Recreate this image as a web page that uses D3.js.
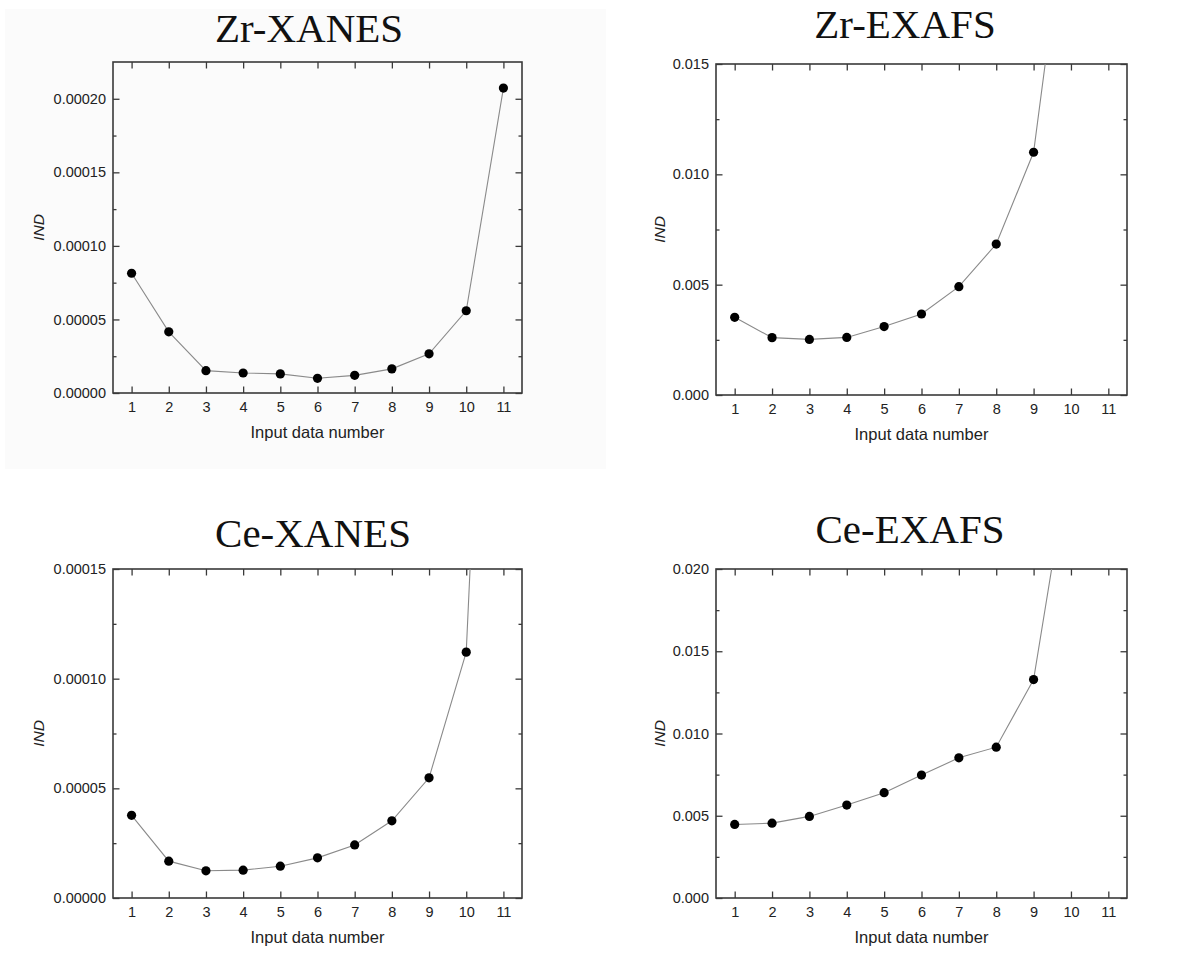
<!DOCTYPE html>
<html>
<head>
<meta charset="utf-8">
<script src="https://cdn.jsdelivr.net/npm/d3@7"></script>
<style>
  html, body { margin: 0; padding: 0; background: #ffffff; }
  svg { display: block; }
</style>
</head>
<body>
<svg id="chart" width="1200" height="967"></svg>
<script>
// ---------- data ----------
const inputNumbers = [1, 2, 3, 4, 5, 6, 7, 8, 9, 10, 11];
const xTickValues = [1, 2, 3, 4, 5, 6, 7, 8, 9, 10, 11];

const panelTitles = ["Zr-XANES", "Zr-EXAFS", "Ce-XANES", "Ce-EXAFS"];

const zrXanesIND = [8.14e-5, 4.16e-5, 1.52e-5, 1.36e-5, 1.30e-5, 1.00e-5, 1.20e-5, 1.64e-5, 2.66e-5, 5.59e-5, 2.073e-4];
const zrExafsIND = [0.00352, 0.00260, 0.00252, 0.00261, 0.00310, 0.00367, 0.00491, 0.00684, 0.01100, 0.0239];
const ceXanesIND = [3.77e-5, 1.68e-5, 1.24e-5, 1.27e-5, 1.45e-5, 1.83e-5, 2.42e-5, 3.52e-5, 5.48e-5, 1.121e-4, 4.8e-4];
const ceExafsIND = [0.00447, 0.00455, 0.00496, 0.00565, 0.00640, 0.00747, 0.00852, 0.00917, 0.01328, 0.0272];

const zrXanesYTicks = [0, 0.00005, 0.00010, 0.00015, 0.00020];
const zrXanesYMinor = [0.000025, 0.000075, 0.000125, 0.000175];
const zrExafsYTicks = [0, 0.005, 0.010, 0.015];
const zrExafsYMinor = [0.0025, 0.0075, 0.0125];
const ceXanesYTicks = [0, 0.00005, 0.00010, 0.00015];
const ceXanesYMinor = [0.000025, 0.000075, 0.000125];
const ceExafsYTicks = [0, 0.005, 0.010, 0.015, 0.020];
const ceExafsYMinor = [0.0025, 0.0075, 0.0125, 0.0175];

const xAxisTitle = "Input data number";
const yAxisTitle = "IND";

// ---------- layout ----------
const panels = [
  { title: panelTitles[0], values: zrXanesIND, yMax: 0.000225, ticks: zrXanesYTicks, minor: zrXanesYMinor, fmt: ".5f",
    left: 113, right: 522, top: 62, bottom: 393, titleX: 309, titleY: 42, yLabelX: 44 },
  { title: panelTitles[1], values: zrExafsIND, yMax: 0.015, ticks: zrExafsYTicks, minor: zrExafsYMinor, fmt: ".3f",
    left: 716, right: 1127, top: 64, bottom: 395, titleX: 905, titleY: 38, yLabelX: 665 },
  { title: panelTitles[2], values: ceXanesIND, yMax: 0.00015, ticks: ceXanesYTicks, minor: ceXanesYMinor, fmt: ".5f",
    left: 113, right: 522, top: 569, bottom: 898, titleX: 313, titleY: 547, yLabelX: 44 },
  { title: panelTitles[3], values: ceExafsIND, yMax: 0.020, ticks: ceExafsYTicks, minor: ceExafsYMinor, fmt: ".3f",
    left: 716, right: 1127, top: 569, bottom: 898, titleX: 910, titleY: 543, yLabelX: 665 }
];

const svg = d3.select("#chart");
svg.append("rect").attr("x", 0).attr("y", 0).attr("width", 1200).attr("height", 967).attr("fill", "#ffffff");
// very faint grey backdrop behind the first panel, as in the scanned figure
svg.append("rect").attr("x", 5).attr("y", 9).attr("width", 601).attr("height", 460).attr("fill", "#fbfbfb");

const sans = "'Liberation Sans', Arial, Helvetica, sans-serif";
const serif = "'Liberation Serif', 'Times New Roman', Times, serif";
const frameColor = "#3a3a3a";
const textColor = "#222222";

panels.forEach((p, i) => {
  const g = svg.append("g");
  const x = d3.scaleLinear().domain([0.5, 11.5]).range([p.left, p.right]);
  const y = d3.scaleLinear().domain([0, p.yMax]).range([p.bottom, p.top]);

  const clipId = "clip" + i;
  svg.append("clipPath").attr("id", clipId)
    .append("rect").attr("x", p.left).attr("y", p.top)
    .attr("width", p.right - p.left).attr("height", p.bottom - p.top);

  // title
  g.append("text").attr("x", p.titleX).attr("y", p.titleY)
    .attr("text-anchor", "middle").attr("font-family", serif)
    .attr("font-size", 41).attr("fill", "#111").text(p.title);

  // axes
  const styleAxis = sel => {
    sel.select(".domain").remove();
    sel.selectAll(".tick line").attr("stroke", frameColor).attr("stroke-width", 1.3);
    sel.selectAll(".tick text").attr("fill", textColor).attr("font-family", sans).attr("font-size", 14.5);
  };

  g.append("g").attr("transform", `translate(0,${p.bottom})`)
    .call(d3.axisBottom(x).tickValues(xTickValues).tickFormat(d3.format("d")).tickSizeInner(-6.5).tickSizeOuter(0).tickPadding(9))
    .call(styleAxis);
  g.append("g").attr("transform", `translate(0,${p.top})`)
    .call(d3.axisTop(x).tickValues(xTickValues).tickFormat("").tickSizeInner(-6.5).tickSizeOuter(0))
    .call(styleAxis);

  g.append("g").attr("transform", `translate(${p.left},0)`)
    .call(d3.axisLeft(y).tickValues(p.ticks).tickFormat(d3.format(p.fmt)).tickSizeInner(-6.5).tickSizeOuter(0).tickPadding(7))
    .call(styleAxis);
  g.append("g").attr("transform", `translate(${p.left},0)`)
    .call(d3.axisLeft(y).tickValues(p.minor).tickFormat("").tickSizeInner(-3.5).tickSizeOuter(0))
    .call(styleAxis);
  g.append("g").attr("transform", `translate(${p.right},0)`)
    .call(d3.axisRight(y).tickValues(p.ticks).tickFormat("").tickSizeInner(-6.5).tickSizeOuter(0))
    .call(styleAxis);
  g.append("g").attr("transform", `translate(${p.right},0)`)
    .call(d3.axisRight(y).tickValues(p.minor).tickFormat("").tickSizeInner(-3.5).tickSizeOuter(0))
    .call(styleAxis);

  // frame
  g.append("rect").attr("x", p.left).attr("y", p.top)
    .attr("width", p.right - p.left).attr("height", p.bottom - p.top)
    .attr("fill", "none").attr("stroke", frameColor).attr("stroke-width", 1.6);

  // axis titles
  g.append("text").attr("x", (p.left + p.right) / 2).attr("y", p.bottom + 45)
    .attr("text-anchor", "middle").attr("font-family", sans).attr("font-size", 16.5)
    .attr("fill", textColor).text(xAxisTitle);
  g.append("text")
    .attr("transform", `translate(${p.yLabelX},${(p.top + p.bottom) / 2}) rotate(-90)`)
    .attr("text-anchor", "middle").attr("font-family", sans).attr("font-size", 15.5)
    .attr("font-style", "italic").attr("fill", textColor).text(yAxisTitle);

  // data
  const pts = p.values.map((v, k) => ({ n: inputNumbers[k], v }));
  const plot = g.append("g").attr("clip-path", `url(#${clipId})`);
  plot.append("path").datum(pts)
    .attr("d", d3.line().x(d => x(d.n)).y(d => y(d.v)))
    .attr("fill", "none").attr("stroke", "#8a8a8a").attr("stroke-width", 1.1);
  plot.selectAll("circle").data(pts).join("circle")
    .attr("cx", d => x(d.n)).attr("cy", d => y(d.v)).attr("r", 4.6)
    .attr("fill", "#000");
});
</script>
</body>
</html>
